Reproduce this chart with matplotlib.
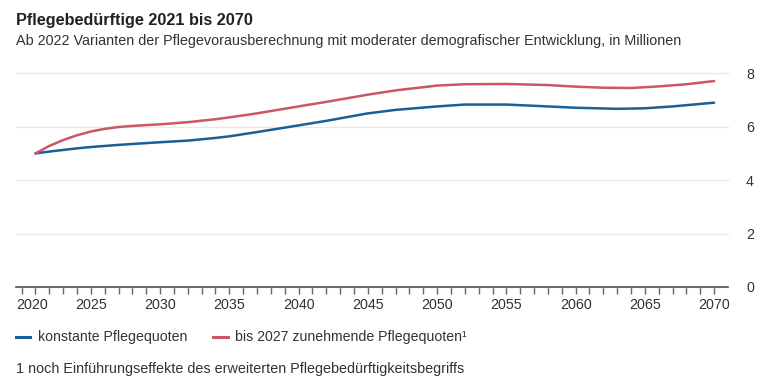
#!/usr/bin/env python3
"""Pflegebeduerftige 2021 bis 2070 - line chart recreation."""
import matplotlib
matplotlib.use("Agg")
import matplotlib.pyplot as plt
import matplotlib.transforms as mtransforms
from matplotlib.lines import Line2D

plt.rcParams["font.family"] = ["Liberation Sans", "DejaVu Sans"]

TITLE = "Pflegebedürftige 2021 bis 2070"
SUBTITLE = "Ab 2022 Varianten der Pflegevorausberechnung mit moderater demografischer Entwicklung, in Millionen"
FOOTNOTE = "1 noch Einführungseffekte des erweiterten Pflegebedürftigkeitsbegriffs"

# konstante Pflegequoten (Mio.)
years_const = [2021, 2022, 2023, 2024, 2025, 2027, 2030, 2032, 2034, 2035, 2037, 2040,
               2042, 2045, 2047, 2050, 2052, 2055, 2058, 2060, 2063, 2065, 2067, 2070]
vals_const = [5.00, 5.07, 5.13, 5.19, 5.24, 5.32, 5.42, 5.48, 5.58, 5.64, 5.80, 6.05,
              6.22, 6.50, 6.63, 6.76, 6.83, 6.83, 6.76, 6.71, 6.67, 6.69, 6.76, 6.90]

# bis 2027 zunehmende Pflegequoten (Mio.)
years_incr = [2021, 2022, 2023, 2024, 2025, 2026, 2027, 2028, 2030, 2032, 2034, 2035,
              2037, 2040, 2042, 2045, 2047, 2050, 2052, 2055, 2058, 2060, 2062, 2064,
              2066, 2068, 2070]
vals_incr = [5.00, 5.28, 5.50, 5.68, 5.82, 5.92, 5.99, 6.03, 6.09, 6.17, 6.28, 6.35,
             6.50, 6.76, 6.93, 7.20, 7.36, 7.54, 7.59, 7.60, 7.56, 7.50, 7.46, 7.45,
             7.51, 7.59, 7.71]

LABELS = ["konstante Pflegequoten", "bis 2027 zunehmende Pflegequoten¹"]
COLORS = ["#1a5f96", "#cc5566"]

x_ticks = list(range(2020, 2071, 5))
y_ticks = [0, 2, 4, 6, 8]

W, H = 770, 389
fig = plt.figure(figsize=(W / 100, H / 100), dpi=100)
ax = fig.add_axes([16 / W, 1 - 287 / H, (728 - 16) / W, (287 - 73.3) / H])

ax.plot(years_const, vals_const, color=COLORS[0], linewidth=1.8, solid_capstyle="round", zorder=3)
ax.plot(years_incr, vals_incr, color=COLORS[1], linewidth=1.8, solid_capstyle="round", zorder=3)

ax.set_xlim(2019.6, 2071.0)
ax.set_ylim(0, 8)

for s in ["top", "right", "left"]:
    ax.spines[s].set_visible(False)
ax.spines["bottom"].set_color("#555555")
ax.spines["bottom"].set_linewidth(1.2)

ax.set_yticks(y_ticks)
ax.yaxis.tick_right()
ax.tick_params(axis="y", length=0, pad=13, labelsize=10.3, labelcolor="#333333")
ax.grid(axis="y", color="#e8e8e8", linewidth=1)
ax.set_axisbelow(True)

ax.set_xticks(x_ticks)
ax.set_xticks(range(2020, 2071), minor=True)
ax.tick_params(axis="x", which="both", length=5, width=1, color="#666666",
               direction="out")
ax.tick_params(axis="x", which="major", labelsize=10.3, labelcolor="#333333", pad=3)
ticklabels = ax.get_xticklabels()
first = ticklabels[0]
first.set_horizontalalignment("left")
first.set_transform(first.get_transform() + mtransforms.ScaledTranslation(-5 / 100, 0, fig.dpi_scale_trans))

for lbl in ax.get_yticklabels():
    lbl.set_clip_on(False)
for line in ax.get_ygridlines():
    line.set_clip_on(False)

fig.text(16 / W, 1 - 20 / H, TITLE, fontsize=11.7, fontweight="bold", color="#222222", va="center")
fig.text(16 / W, 1 - 41 / H, SUBTITLE, fontsize=10.4, color="#333333", va="center")

# legend
leg_y = 1 - 337 / H
fig.add_artist(Line2D([16 / W, 30 / W], [leg_y, leg_y], color=COLORS[0], linewidth=2.2,
                      transform=fig.transFigure))
fig.text(38 / W, leg_y, LABELS[0], fontsize=10.2, color="#333333", va="center")
fig.add_artist(Line2D([213 / W, 228 / W], [leg_y, leg_y], color=COLORS[1], linewidth=2.2,
                      transform=fig.transFigure))
fig.text(235 / W, leg_y, LABELS[1], fontsize=10.2, color="#333333", va="center")

fig.text(16 / W, 1 - 369 / H, FOOTNOTE, fontsize=10.4, color="#333333", va="center")

fig.savefig("out.png", dpi=100, facecolor="white")
